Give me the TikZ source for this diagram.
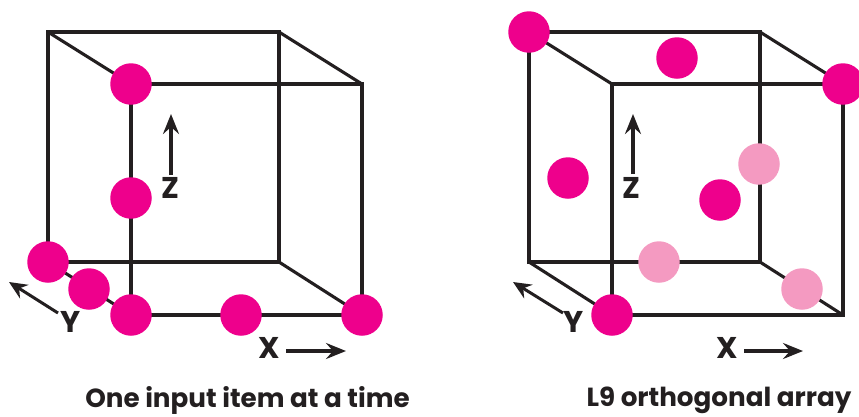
\documentclass[tikz,border=0pt]{standalone}
\usepackage{fontspec}
\setmainfont{Poppins}
\usetikzlibrary{arrows.meta}
\definecolor{ink}{HTML}{231F20}
\definecolor{dotfull}{HTML}{EE008C}
\definecolor{dotpale}{HTML}{F49AC1}
\newcommand{\axisfont}{\fontsize{30}{31}\selectfont}
\newcommand{\capfont}{\fontsize{26.2}{27}\selectfont}
\tikzset{
  edgeline/.style={draw=ink, line width=3.1pt, line join=miter},
  axisline/.style={draw=ink, line width=4.4pt, -{Stealth[length=20pt,width=16pt,inset=7pt]}},
  yline/.style={draw=ink, line width=3pt, -{Stealth[length=18pt,width=16pt,inset=6pt]}},
  axislabel/.style={text=ink, font=\bfseries\axisfont, inner sep=0pt},
  captionlabel/.style={text=ink, font=\bfseries\capfont, inner sep=0pt},
  dotfull/.style={circle, fill=dotfull, minimum size=41.5pt, inner sep=0pt},
  dotpale/.style={circle, fill=dotpale, minimum size=41.5pt, inner sep=0pt},
}
\newcommand{\cubeframe}[2]{%
  \coordinate (#1btl) at (#2+48,32);
  \coordinate (#1btr) at (#2+279,32);
  \coordinate (#1bbl) at (#2+48,262);
  \coordinate (#1bbr) at (#2+279,262);
  \coordinate (#1ftl) at (#2+131,84);
  \coordinate (#1ftr) at (#2+362,84);
  \coordinate (#1fbl) at (#2+131,315);
  \coordinate (#1fbr) at (#2+362,315);
  \draw[edgeline] (#1btl) -- (#1btr) -- (#1bbr) -- (#1bbl) -- cycle;
  \draw[edgeline] (#1ftl) -- (#1ftr) -- (#1fbr) -- (#1fbl) -- cycle;
  \foreach \corner in {tl,tr,bl,br} {%
    \draw[edgeline] (#1b\corner) -- (#1f\corner);
  }
}

\begin{document}
\begin{tikzpicture}[x=1pt,y=-1pt]
  \useasboundingbox (0,0) rectangle (859,416);

  % Left cube: one input moved at a time.
  \cubeframe{l}{0}
  \foreach \name/\xx/\yy in {a/131/84,b/131/198,c/48/262,d/89/289,e/131/315,f/241/315,g/362/315} {%
    \node[dotfull] (l\name) at (\xx,\yy) {};
  }
  \node[axislabel] (lz) at (170,188) {Z};
  \node[axislabel] (ly) at (71,322) {Y};
  \node[axislabel] (lx) at (269,348) {X};
  \coordinate (lztip) at (171,114);
  \coordinate (lytip) at (9,282);
  \coordinate (lxtip) at (346,351);
  \draw[axisline] (171,175) -- (lztip);
  \draw[yline] (58,313) -- (lytip);
  \draw[axisline] (286,351) -- (lxtip);
  \node[captionlabel] (lcap) at (247.5,400) {One input item at a time};

  % Right cube: the nine runs of the array.
  \cubeframe{r}{481}
  \foreach \name/\xx/\yy in {a/529/32,b/677/58,c/843/84,d/568/178,e/720/200,f/612/315} {%
    \node[dotfull] (r\name) at (\xx,\yy) {};
  }
  \foreach \name/\xx/\yy in {g/759/164,h/659/262,i/802/289} {%
    \node[dotpale] (r\name) at (\xx,\yy) {};
  }
  \node[axislabel] (rz) at (631,188) {Z};
  \node[axislabel] (ry) at (574,322) {Y};
  \node[axislabel] (rx) at (727,348) {X};
  \coordinate (rztip) at (633,114);
  \coordinate (rytip) at (513,282);
  \coordinate (rxtip) at (803,351);
  \draw[axisline] (633,174) -- (rztip);
  \draw[yline] (563,313) -- (rytip);
  \draw[axisline] (744,351) -- (rxtip);
  \node[captionlabel] (rcap) at (719,400) {L9 orthogonal array};
\end{tikzpicture}
\end{document}
